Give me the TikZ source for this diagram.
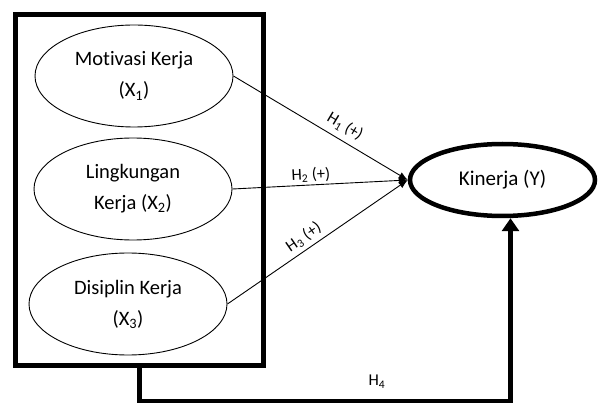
\documentclass[tikz,border=0pt]{standalone}
\usepackage{fontspec}
\setmainfont[Ligatures=NoCommon]{Carlito}
\usetikzlibrary{shapes.geometric,arrows.meta}
\newcommand{\sbs}[1]{\textsubscript{#1}}
\tikzset{
  varnode/.style={draw, ellipse, line width=0.9pt, inner sep=0pt, minimum width=198pt, minimum height=102pt, align=center, font=\fontsize{20.5}{31}\selectfont},
  kinnode/.style={draw, ellipse, line width=4.5pt, inner sep=0pt, minimum width=185pt, minimum height=72pt, align=center, font=\fontsize{21}{25}\selectfont},
  groupbox/.style={draw, line width=5pt, inner sep=0pt, minimum width=247.5pt, minimum height=350.5pt},
  path/.style={line width=0.9pt, -{Latex[length=9pt,width=7pt]}},
  thickpath/.style={line width=5pt, -{Triangle[length=13pt,width=17pt]}},
  hlabel/.style={font=\fontsize{16.5}{18}\selectfont, inner sep=1pt}
}
\begin{document}
\begin{tikzpicture}[x=1pt,y=-1pt]
\useasboundingbox (0,0) rectangle (599,403);
\node[groupbox] (box) at (139.25,189.75) {};
\node[varnode] (m) at (134,76) {Motivasi Kerja\\(X\sbs{1})};
\node[varnode] (l) at (133,189) {Lingkungan\\Kerja (X\sbs{2})};
\node[varnode] (d) at (128,304) {Disiplin Kerja\\(X\sbs{3})};
\node[kinnode] (kin) at (502.5,180) {Kinerja (Y)};
\draw[path] (m.east) -- node[hlabel, sloped, above=5pt, pos=0.6] {H\sbs{1} (+)} (kin.west);
\draw[path] (l.east) -- node[hlabel, sloped, above=1pt, pos=0.45] {H\sbs{2} (+)} (kin.west);
\draw[path] (d.east) -- node[hlabel, sloped, above=3pt, pos=0.46] {H\sbs{3} (+)} (kin.west);
\draw[thickpath] (box.south) -- ++(0,34) coordinate (c) -| node[hlabel, pos=0.32, above=10pt] {H\sbs{4}} ([xshift=8pt]kin.south);
\end{tikzpicture}
\end{document}
